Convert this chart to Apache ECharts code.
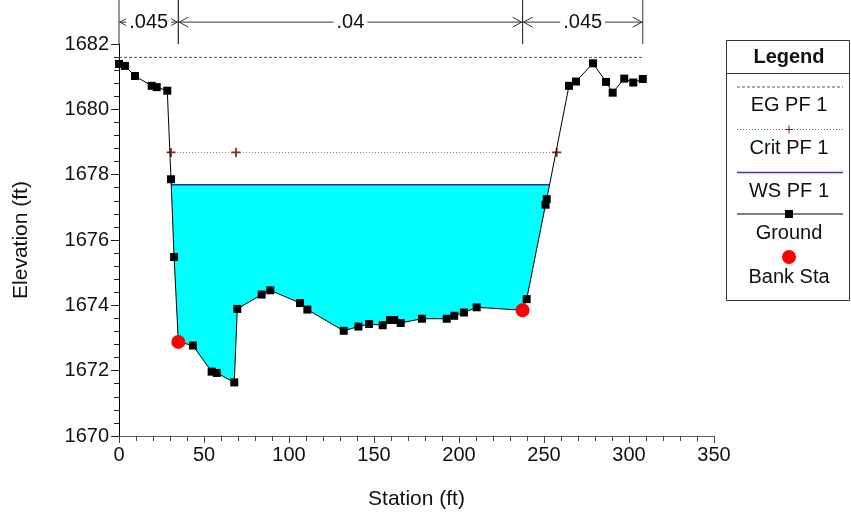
<!DOCTYPE html>
<html><head><meta charset="utf-8">
<script src="https://cdn.jsdelivr.net/npm/echarts@6/dist/echarts.min.js"></script>
<style>html,body{margin:0;padding:0;background:#fff}#c{width:851px;height:515px}</style>
</head><body><div id="c"></div>
<script>
// ---- data ----
const groundStation = [0, 3.5, 9.4, 19.2, 22.2, 28.4, 30.6, 32.4, 34.9, 43.5, 54.5, 57.5, 67.8, 69.6, 83.9, 89.0, 106.5, 110.8, 132.2, 140.8, 147.1, 155.1, 159.4, 161.9, 165.7, 178.2, 192.8, 197.2, 202.9, 210.4, 237.4, 239.8, 250.9, 251.6, 264.7, 268.8, 278.8, 286.5, 290.4, 297.2, 302.5, 308.1];
const groundElev = [1681.39, 1681.33, 1681.02, 1680.72, 1680.68, 1680.57, 1677.86, 1675.48, 1672.88, 1672.77, 1671.97, 1671.93, 1671.64, 1673.89, 1674.33, 1674.46, 1674.07, 1673.87, 1673.22, 1673.35, 1673.43, 1673.39, 1673.55, 1673.55, 1673.46, 1673.59, 1673.59, 1673.68, 1673.78, 1673.94, 1673.85, 1674.19, 1677.08, 1677.25, 1680.72, 1680.85, 1681.41, 1680.84, 1680.51, 1680.94, 1680.82, 1680.93];
const bankStation = [34.9, 237.4];
const bankElev = [1672.88, 1673.85];
const wsElev = 1677.69;
const egStation = [0, 308.1];
const egElev = 1681.59;
const critStation = [30.6, 68.8, 257.5];
const critElev = 1678.68;
const nStart = [0, 34.9, 237.4];
const nEnd = [34.9, 237.4, 308.1];
const nLabel = ['.045', '.04', '.045'];
const nArrowElev = 1682.67;
const nTopElev = 1683.36;
const xMin = 0, xMax = 350, xInterval = 50;
const yMin = 1670, yMax = 1682, yInterval = 2;
const legendNames = ['EG PF 1', 'Crit PF 1', 'WS PF 1', 'Ground', 'Bank Sta'];

// ---- derived: water polygon from ground/ws crossing ----
const ground = groundStation.map((s, i) => [s, groundElev[i]]);
function crossX(p, q, e) { return p[0] + (q[0] - p[0]) * (p[1] - e) / (p[1] - q[1]); }
let li = 0; while (!(ground[li][1] >= wsElev && ground[li + 1][1] < wsElev)) li++;
let ri = ground.length - 2; while (!(ground[ri][1] < wsElev && ground[ri + 1][1] >= wsElev)) ri--;
const xL = crossX(ground[li], ground[li + 1], wsElev);
const xR = crossX(ground[ri], ground[ri + 1], wsElev);
const waterPoly = [[xL, wsElev], [xR, wsElev]];
for (let k = ri; k > li; k--) waterPoly.push(ground[k]);

const FONT = '"Liberation Sans", Arial, sans-serif';
const chart = echarts.init(document.getElementById('c'), null, { renderer: 'canvas' });

function renderWater(params, api) {
  return { type: 'polygon', shape: { points: waterPoly.map(p => api.coord(p)) }, style: { fill: '#00ffff' } };
}
function renderN(params, api) {
  const i = params.dataIndex;
  const a = api.coord([nStart[i], nArrowElev]);
  const b = api.coord([nEnd[i], nArrowElev]);
  const top = api.coord([nStart[i], nTopElev])[1];
  const bot = api.coord([nStart[i], yMax])[1];
  const st = { stroke: '#333', lineWidth: 1, fill: null };
  return {
    type: 'group', children: [
      { type: 'line', shape: { x1: a[0], y1: top, x2: a[0], y2: bot }, style: st },
      { type: 'line', shape: { x1: b[0], y1: top, x2: b[0], y2: bot }, style: st },
      { type: 'line', shape: { x1: a[0], y1: a[1], x2: b[0], y2: b[1] }, style: st },
      { type: 'polyline', shape: { points: [[a[0] + 10, a[1] - 5], [a[0] + 1, a[1]], [a[0] + 10, a[1] + 5]] }, style: st },
      { type: 'polyline', shape: { points: [[b[0] - 10, b[1] - 5], [b[0] - 1, b[1]], [b[0] - 10, b[1] + 5]] }, style: st },
      { type: 'text', x: (a[0] + b[0]) / 2, y: a[1], z2: 10, style: { text: nLabel[i], font: '20px ' + FONT, fill: '#111', align: 'center', verticalAlign: 'middle', backgroundColor: '#fff', padding: [0, 3] } }
    ]
  };
}

const PLUS = 'path://M4,0H6V4H10V6H6V10H4V6H0V4H4Z';
const lx0 = 737, lx1 = 843, lcx = 789;
const LF = '20px ' + FONT;
const legendGraphic = {
  type: 'group', children: [
    { type: 'rect', shape: { x: 726.5, y: 40.5, width: 123, height: 260 }, style: { fill: '#fff', stroke: '#333', lineWidth: 1 } },
    { type: 'text', x: lcx, y: 57, style: { text: 'Legend', font: 'bold 20px ' + FONT, fill: '#111', align: 'center', verticalAlign: 'middle' } },
    { type: 'line', shape: { x1: 727, y1: 73.5, x2: 850, y2: 73.5 }, style: { stroke: '#333', lineWidth: 1 } },
    { type: 'line', shape: { x1: lx0, y1: 87, x2: lx1, y2: 87 }, style: { stroke: '#555', lineWidth: 1, lineDash: [3, 2] } },
    { type: 'text', x: lcx, y: 105, style: { text: legendNames[0], font: LF, fill: '#111', align: 'center', verticalAlign: 'middle' } },
    { type: 'line', shape: { x1: lx0, y1: 129.5, x2: lx1, y2: 129.5 }, style: { stroke: '#b05050', lineWidth: 1, lineDash: [1, 2] } },
    { type: 'line', shape: { x1: 785, y1: 129.5, x2: 793, y2: 129.5 }, style: { stroke: '#7a2020', lineWidth: 1 } },
    { type: 'line', shape: { x1: 789, y1: 125.5, x2: 789, y2: 133.5 }, style: { stroke: '#7a2020', lineWidth: 1 } },
    { type: 'text', x: lcx, y: 148, style: { text: legendNames[1], font: LF, fill: '#111', align: 'center', verticalAlign: 'middle' } },
    { type: 'line', shape: { x1: lx0, y1: 172.5, x2: lx1, y2: 172.5 }, style: { stroke: '#3a3ac0', lineWidth: 1.5 } },
    { type: 'text', x: lcx, y: 191, style: { text: legendNames[2], font: LF, fill: '#111', align: 'center', verticalAlign: 'middle' } },
    { type: 'line', shape: { x1: lx0, y1: 214, x2: lx1, y2: 214 }, style: { stroke: '#000', lineWidth: 1 } },
    { type: 'rect', shape: { x: 785, y: 210, width: 8, height: 8 }, style: { fill: '#000' } },
    { type: 'text', x: lcx, y: 233, style: { text: legendNames[3], font: LF, fill: '#111', align: 'center', verticalAlign: 'middle' } },
    { type: 'circle', shape: { cx: lcx, cy: 257, r: 7 }, style: { fill: '#ff0000' } },
    { type: 'text', x: lcx, y: 277, style: { text: legendNames[4], font: LF, fill: '#111', align: 'center', verticalAlign: 'middle' } }
  ]
};

chart.setOption({
  animation: false,
  backgroundColor: '#fff',
  textStyle: { fontFamily: FONT },
  grid: { left: 119, top: 44, width: 595, height: 393, containLabel: false },
  xAxis: {
    type: 'value', min: xMin, max: xMax, interval: xInterval,
    name: 'Station (ft)', nameLocation: 'middle', nameGap: 53,
    nameTextStyle: { fontSize: 21, color: '#111', fontFamily: FONT },
    axisLine: { show: true, onZero: false, lineStyle: { color: '#666', width: 1 } },
    axisTick: { show: true, length: 7, lineStyle: { color: '#444' } },
    minorTick: { show: true, splitNumber: 5, length: 5, lineStyle: { color: '#444' } },
    axisLabel: { fontSize: 20, color: '#111', margin: 9, fontFamily: FONT, formatter: v => String(v) },
    splitLine: { show: false }, minorSplitLine: { show: false }
  },
  yAxis: {
    type: 'value', min: yMin, max: yMax, interval: yInterval,
    name: 'Elevation (ft)', nameLocation: 'middle', nameGap: 87, nameRotate: 90,
    nameTextStyle: { fontSize: 21, color: '#111', fontFamily: FONT },
    axisLine: { show: true, onZero: false, lineStyle: { color: '#000', width: 1 } },
    axisTick: { show: true, length: 8, lineStyle: { color: '#222' } },
    minorTick: { show: true, splitNumber: 5, length: 5, lineStyle: { color: '#222' } },
    axisLabel: { fontSize: 20, color: '#111', margin: 10, fontFamily: FONT, formatter: v => String(v) },
    splitLine: { show: false }, minorSplitLine: { show: false }
  },
  graphic: [legendGraphic],
  series: [
    { type: 'custom', name: 'water', renderItem: renderWater, data: [[xL, wsElev]], z: 1, silent: true, clip: false },
    { type: 'line', name: 'WS PF 1', data: [[xL, wsElev], [xR, wsElev]], showSymbol: false, symbol: 'none', lineStyle: { color: '#2a2ab0', width: 1.5 }, z: 3 },
    { type: 'line', name: 'EG PF 1', data: egStation.map(s => [s, egElev]), symbol: 'none', lineStyle: { color: '#555', width: 1, type: [3, 2] }, z: 3 },
    { type: 'line', name: 'Crit PF 1', data: critStation.map(s => [s, critElev]), symbol: PLUS, symbolSize: 9, itemStyle: { color: '#8a2a2a' }, lineStyle: { color: '#c06060', width: 1, type: [1, 2] }, z: 3 },
    { type: 'line', name: 'Ground', data: ground, symbol: 'rect', symbolSize: 8, itemStyle: { color: '#000' }, lineStyle: { color: '#000', width: 1 }, z: 4 },
    { type: 'scatter', name: 'Bank Sta', data: bankStation.map((s, i) => [s, bankElev[i]]), symbol: 'circle', symbolSize: 14, itemStyle: { color: '#ff0000', opacity: 1 }, z: 5 },
    { type: 'custom', name: 'n-values', renderItem: renderN, data: nStart.map(s => [s, nArrowElev]), z: 6, silent: true, clip: false }
  ]
});
</script></body></html>
